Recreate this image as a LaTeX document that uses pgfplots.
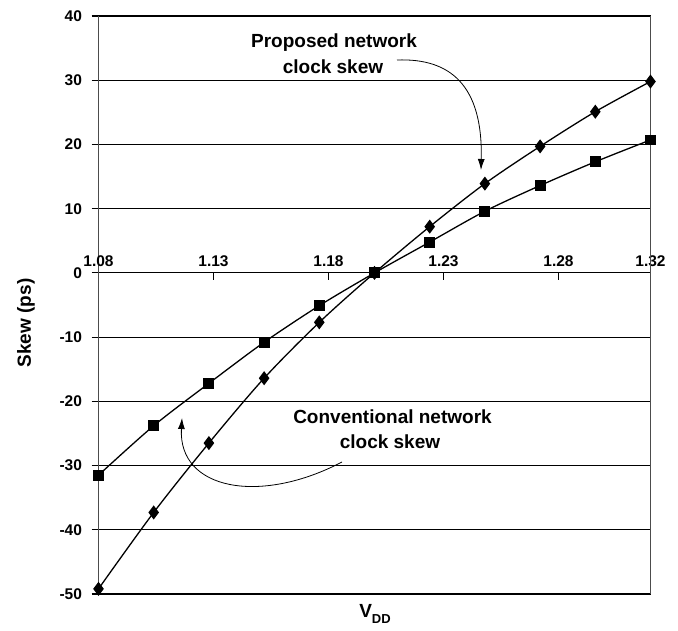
\documentclass[border=0pt]{standalone}
\usepackage{fontspec}
\setmainfont{Liberation Sans}
\usepackage{pgfplots}
\pgfplotsset{compat=1.18}
\usetikzlibrary{arrows.meta}
\begin{document}
\begin{tikzpicture}[x=1pt,y=1pt]
\useasboundingbox (0,0) rectangle (678,630);
\begin{axis}[
  at={(98.5pt,36pt)}, anchor=south west,
  scale only axis, width=552pt, height=578pt,
  xmin=1.08, xmax=1.32, ymin=-50, ymax=40,
  axis x line=middle, axis y line=left,
  axis line style={-},
  x axis line style={black, line width=1.1pt},
  y axis line style={draw=black!70, line width=1.8pt},
  hide obscured x ticks=false,
  xtick={1.08,1.13,1.18,1.23,1.28,1.32},
  xticklabels={1.08,1.13,1.18,1.23,1.28,1.32},
  ytick={-50,-40,-30,-20,-10,0,10,20,30,40},
  ymajorgrids, grid style={black, line width=1.1pt},
  tick style={black, line width=1.1pt},
  major tick length=7pt,
  xtick align=center, ytick align=outside,
  x tick style={yshift=-3.5pt},
  ticklabel style={font=\fontsize{15.5}{17}\selectfont\bfseries},
  xticklabel style={anchor=south, yshift=6pt},
  yticklabel style={xshift=-6pt},
  /pgf/number format/assume math mode=true,
  clip=false,
]
\addplot[black, line width=1.3pt, smooth, mark=diamond*, mark size=6pt, mark options={solid}] coordinates {
(1.080,-49.2) (1.104,-37.3) (1.128,-26.5) (1.152,-16.4) (1.176,-7.7) (1.200,0.0)
(1.224,7.2) (1.248,13.9) (1.272,19.7) (1.296,25.1) (1.320,29.8)};
\addplot[black, line width=1.3pt, smooth, mark=square*, mark size=4.8pt, mark options={solid}] coordinates {
(1.080,-31.5) (1.104,-23.8) (1.128,-17.2) (1.152,-10.8) (1.176,-5.1) (1.200,0.0)
(1.224,4.8) (1.248,9.6) (1.272,13.6) (1.296,17.3) (1.320,20.7)};
\draw[black!70, line width=1pt] (rel axis cs:1,0) -- (rel axis cs:1,1);
\end{axis}
\begin{scope}[font=\fontsize{19}{25}\selectfont\bfseries]
\node[anchor=base] at (334,582.3) {Proposed network};
\node[anchor=base] at (333,556.7) {clock skew};
\node[anchor=base] at (392.5,206.7) {Conventional network};
\node[anchor=base] at (390,181.7) {clock skew};
\node[rotate=90] at (26,307) {Skew (ps)};
\node at (375,16) {V\raisebox{-0.35em}{\fontsize{13}{13}\selectfont DD}};
\end{scope}
\draw[line width=0.8pt, -{Latex[length=11pt,width=7pt]}] (397,570) .. controls (450,572) and (483,545) .. (481,460);
\draw[line width=0.8pt, -{Latex[length=11pt,width=7pt]}] (342,168) .. controls (260,125) and (178,140) .. (182,212);
\end{tikzpicture}
\end{document}
